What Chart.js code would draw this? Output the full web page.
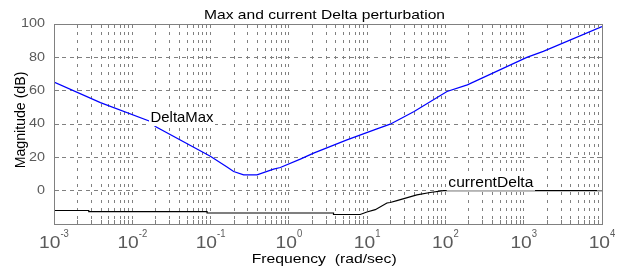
<!DOCTYPE html>
<html><head><meta charset="utf-8">
<script src="https://cdn.jsdelivr.net/npm/chart.js@4/dist/chart.umd.min.js"></script>
<style>html,body{margin:0;padding:0;background:#fff;}canvas{display:block;}</style>
</head><body>
<canvas id="c" width="619" height="271"></canvas>
<script>
// ---- data ----
const titleText = 'Max and current Delta perturbation';
const xAxisTitle = 'Frequency  (rad/sec)';
const yAxisTitle = 'Magnitude (dB)';
const seriesNames = ['DeltaMax', 'currentDelta'];

const deltaMaxFreq = [0.001, 0.00392, 0.01706, 0.01972, 0.0993, 0.1622, 0.1972, 0.2642, 0.3917, 0.6383, 0.778, 1.400, 2.070, 5.521, 13.34, 19.68, 39.8, 104.7, 190.5, 1096, 1778, 10000];
const deltaMaxDb   = [65.2, 52.8, 41.5, 38.5, 20.6, 14.2, 11.5, 9.5, 9.5, 12.9, 13.9, 18.9, 22.5, 30.5, 37.1, 39.9, 47.5, 59.5, 63.5, 80.0, 83.6, 98.4];

const currentDeltaFreq = [0.001, 0.00278, 0.00278, 0.0902, 0.0902, 3.72, 3.72, 8.15, 9.93, 12.7, 17.9, 19.7, 24.0, 43.2, 63.8, 94.4, 10000];
const currentDeltaDb   = [-11.9, -11.9, -12.6, -12.6, -13.4, -13.4, -14.3, -14.3, -12.8, -11.4, -7.4, -7.1, -6.0, -2.5, -1.1, 0, 0];

const xDecades = [-3, -2, -1, 0, 1, 2, 3, 4];
const yTickValues = [-20, 0, 20, 40, 60, 80, 100];
const yTickLabels = ['', '0', '20', '40', '60', '80', '100'];

// annotation anchors (data coordinates)
const deltaMaxLabelAt = {x: 0.0171, y: 41.5};
const currentDeltaLabelAt = {x: 109, y: 2.5};

// ---- styles ----
const FONT = '"Liberation Sans", Arial, Helvetica, sans-serif';
const GRID = '#808080';
const AXIS = '#808080';
const TICK = '#5a5a5a';

function txt(ctx, s, x, y, o) {
  ctx.save();
  ctx.font = o.size + 'px ' + FONT;
  const w = ctx.measureText(s).width;
  const sx = o.width ? o.width / w : (o.sx || 1);
  const sy = o.sy || 1;
  ctx.translate(x, y);
  if (o.rotate) ctx.rotate(o.rotate);
  ctx.scale(sx, sy);
  ctx.textAlign = o.align || 'left';
  ctx.textBaseline = o.baseline || 'alphabetic';
  if (o.bg) {
    const left = o.align === 'center' ? -w / 2 : (o.align === 'right' ? -w : 0);
    ctx.fillStyle = '#ffffff';
    ctx.fillRect(left - 1.5, -0.82 * o.size, w + 3, 1.12 * o.size);
  }
  ctx.fillStyle = o.color || '#000';
  ctx.fillText(s, 0, 0);
  ctx.restore();
  return w * sx;
}

const decorPlugin = {
  id: 'decor',
  afterDraw(chart) {
    const ctx = chart.ctx, xs = chart.scales.x, ys = chart.scales.y, a = chart.chartArea;
    // annotations with white background
    txt(ctx, seriesNames[0], xs.getPixelForValue(deltaMaxLabelAt.x), ys.getPixelForValue(deltaMaxLabelAt.y), {size: 15, width: 63, bg: true});
    txt(ctx, seriesNames[1], xs.getPixelForValue(currentDeltaLabelAt.x), ys.getPixelForValue(currentDeltaLabelAt.y), {size: 14, width: 85, bg: true});

    // tick marks + box
    ctx.save();
    ctx.strokeStyle = AXIS; ctx.lineWidth = 1; ctx.setLineDash([]);
    ctx.beginPath();
    xs.ticks.forEach(t => {
      const x = Math.round(xs.getPixelForValue(t.value) - 0.5) + 0.5;
      ctx.moveTo(x, a.top); ctx.lineTo(x, a.top + 4);
      ctx.moveTo(x, a.bottom); ctx.lineTo(x, a.bottom - 4);
    });
    ys.ticks.forEach(t => {
      const y = Math.round(ys.getPixelForValue(t.value) - 0.5) + 0.5;
      ctx.moveTo(a.left, y); ctx.lineTo(a.left + 5, y);
      ctx.moveTo(a.right, y); ctx.lineTo(a.right - 5, y);
    });
    ctx.stroke();
    ctx.strokeRect(Math.round(a.left) + 0.5, Math.round(a.top) + 0.5, Math.round(a.right - a.left), Math.round(a.bottom - a.top));
    ctx.restore();

    // y tick labels
    yTickValues.forEach((v, i) => {
      if (!yTickLabels[i]) return;
      txt(ctx, yTickLabels[i], a.left - 9, ys.getPixelForValue(v), {size: 12, sx: 1.2, align: 'right', baseline: 'middle', color: TICK});
    });

    // x tick labels: 10 with superscript exponent
    xDecades.forEach(k => {
      const x = xs.getPixelForValue(Math.pow(10, k));
      ctx.font = '16px ' + FONT;
      const wb = ctx.measureText('10').width * 1.2;
      ctx.font = '10px ' + FONT;
      const we = ctx.measureText(String(k)).width * 0.95;
      const start = x - (wb + we) / 2;
      txt(ctx, '10', start, a.bottom + 24.3, {size: 16, sx: 1.2, color: TICK});
      txt(ctx, String(k), start + wb, a.bottom + 13.3, {size: 10, sx: 0.95, color: TICK});
    });

    // titles
    txt(ctx, titleText, (a.left + a.right) / 2 - 3.5, a.top - 5.5, {size: 13, width: 241, align: 'center'});
    txt(ctx, xAxisTitle, (a.left + a.right) / 2 - 3.8, a.bottom + 38.5, {size: 13.5, width: 145, align: 'center'});
    txt(ctx, yAxisTitle, 25, 120, {size: 13, width: 96.7, sy: 1.15, align: 'center', rotate: -Math.PI / 2});
  }
};

function buildLogTicks() {
  const out = [];
  xDecades.forEach(k => {
    for (let m = 1; m <= 9; m++) {
      const v = m * Math.pow(10, k);
      if (v <= 10000 * 1.0000001) out.push({value: v, major: m === 1});
    }
  });
  return out;
}

new Chart(document.getElementById('c'), {
  type: 'line',
  data: {
    datasets: [
      {label: seriesNames[0], data: deltaMaxFreq.map((f, i) => ({x: f, y: deltaMaxDb[i]})),
       borderColor: '#0000ff', borderWidth: 1.2, pointRadius: 0, tension: 0, fill: false},
      {label: seriesNames[1], data: currentDeltaFreq.map((f, i) => ({x: f, y: currentDeltaDb[i]})),
       borderColor: '#000000', borderWidth: 1.2, pointRadius: 0, tension: 0, fill: false}
    ]
  },
  options: {
    responsive: false, animation: false, devicePixelRatio: 1, events: [],
    layout: {padding: {left: 54, right: 17, top: 24, bottom: 47}},
    plugins: {legend: {display: false}, tooltip: {enabled: false}, title: {display: false}},
    scales: {
      x: {
        type: 'logarithmic', min: 0.001, max: 10000,
        afterFit(s) { s.height = 0; },
        afterBuildTicks(s) { s.ticks = buildLogTicks(); },
        ticks: {display: false, autoSkip: false},
        grid: {color: GRID, lineWidth: 1, drawTicks: false},
        border: {display: false, dash: [3, 5]}
      },
      y: {
        type: 'linear', min: -20, max: 100,
        afterFit(s) { s.width = 0; },
        afterBuildTicks(s) { s.ticks = yTickValues.map(v => ({value: v})); },
        ticks: {display: false},
        grid: {color: GRID, lineWidth: 1, drawTicks: false},
        border: {display: false, dash: [4, 4]}
      }
    }
  },
  plugins: [decorPlugin]
});
</script>
</body></html>
